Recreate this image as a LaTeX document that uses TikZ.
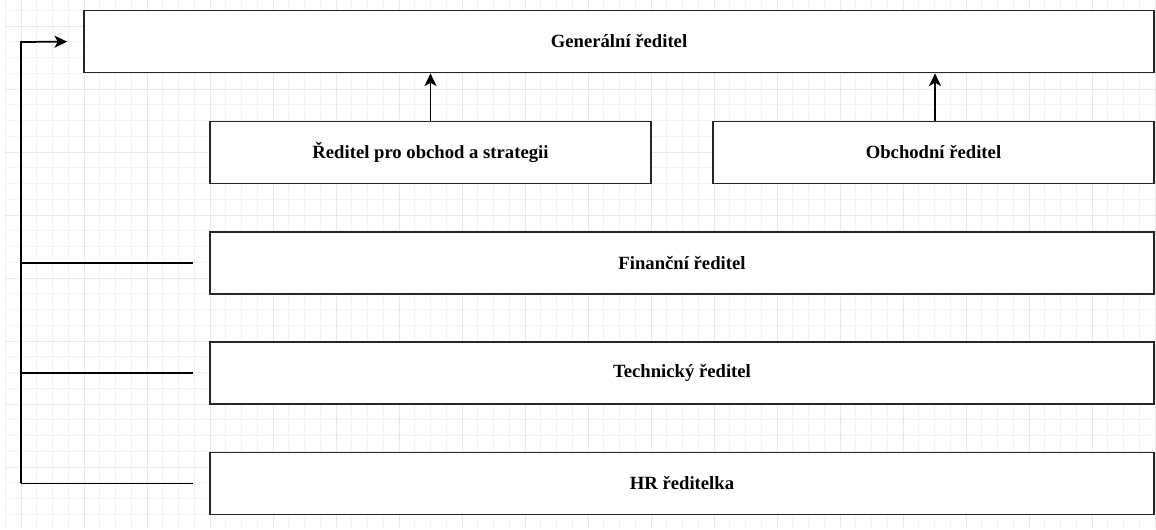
\documentclass[tikz,border=0pt]{standalone}
\usepackage{fontspec}
\setmainfont{Liberation Serif}
\usepackage{tikz}
\usetikzlibrary{arrows.meta,positioning,calc}

\begin{document}
\begin{tikzpicture}[x=0.75pt,y=-0.75pt,
    role/.style={draw=black!85, line width=1.3pt, fill=white, minimum height=46.5pt,
                 inner sep=0pt, font=\fontsize{14}{16}\selectfont\bfseries},
    link/.style={draw=black, line width=1.3pt},
    tip/.style={-{Stealth[length=9.5pt,width=9pt,inset=2.5pt]}}]
  \useasboundingbox (0,0) rectangle (1156,529);
  \fill[white] (0,0) rectangle (1156,529);

  % background grid
  \foreach \gx in {5.25,21,...,1156} \draw[black!5, line width=0.5pt] (\gx,0) -- (\gx,529);
  \foreach \gy in {10.25,26,...,529} \draw[black!5, line width=0.5pt] (5,\gy) -- (1156,\gy);
  \foreach \gx in {21,84,...,1156} \draw[black!9, line width=0.6pt] (\gx,0) -- (\gx,529);
  \foreach \gy in {26,89,...,529} \draw[black!9, line width=0.6pt] (5,\gy) -- (1156,\gy);

  \node[role, minimum width=802.5pt] (gen) at (619,41.5) {Generální ředitel};
  \node[role, minimum width=330.75pt] (strat) at (430.5,152.5) {Ředitel pro obchod a strategii};
  \node[role, minimum width=330.75pt] (obch) at (933.5,152.5) {Obchodní ředitel};
  \node[role, minimum width=708pt] (fin) at (682,263) {Finanční ředitel};
  \node[role, minimum width=708pt] (tech) at (682,373) {Technický ředitel};
  \node[role, minimum width=708pt] (hr) at (682,483.5) {HR ředitelka};

  \draw[link,tip] (strat.north) -- (strat.north |- gen.south);
  \draw[link,tip] ($(obch.north)+(1.5,0)$) -- ($(obch.north |- gen.south)+(1.5,0)$);

  \coordinate (busT) at (21,42);
  \coordinate (busB) at (21,483);
  \draw[link,tip,shorten >=12pt] (busB) -- (busT) -- (gen.west);
  \foreach \n in {fin,tech,hr}
    \draw[link,shorten >=12pt] (busT |- \n.west) -- (\n.west);
\end{tikzpicture}
\end{document}
